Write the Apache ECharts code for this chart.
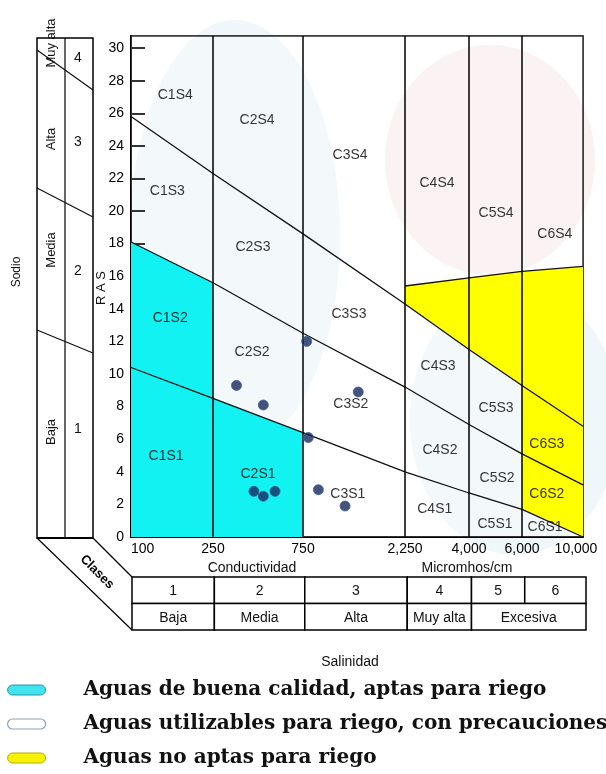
<!DOCTYPE html>
<html>
<head>
<meta charset="utf-8">
<script src="https://cdn.jsdelivr.net/npm/echarts@6/dist/echarts.min.js"></script>
<style>
  html, body { margin: 0; padding: 0; background: #fff; }
  #chart { width: 606px; height: 774px; }
</style>
</head>
<body>
<div id="chart"></div>
<script>
// Conductivity class limits (micromhos/cm) and their printed labels
const condBreaks = [100, 250, 750, 2250, 4000, 6000, 10000];
const condLabels = ['100', '250', '750', '2,250', '4,000', '6,000', '10,000'];

// RAS tick values
const rasTicks = [0, 2, 4, 6, 8, 10, 12, 14, 16, 18, 20, 22, 24, 26, 28, 30];

// Sodium hazard boundaries: RAS read at each conductivity limit
const lineS1S2 = [10.4, 8.5, 6.4, 4.0, 2.7, 1.7, 0];
const lineS2S3 = [18.1, 15.6, 12.5, 9.2, 6.9, 5.1, 3.2];
const lineS3S4 = [25.8, 22.3, 18.6, 14.3, 11.5, 9.3, 6.8];
const lineUnfit = [null, null, null, 15.4, 15.9, 16.3, 16.6];

// Water samples
const sampleCond = [780, 333, 462, 1360, 794, 412, 462, 533, 885, 1180];
const sampleRas = [12.0, 9.3, 8.1, 8.9, 6.1, 2.8, 2.5, 2.8, 2.9, 1.9];

// Zone names and where each is written (conductivity, RAS)
const zoneNames = ['C1S4', 'C2S4', 'C3S4', 'C1S3', 'C2S3', 'C1S2', 'C3S3', 'C2S2', 'C3S2', 'C1S1', 'C2S1', 'C3S1',
                   'C4S4', 'C5S4', 'C6S4', 'C4S3', 'C5S3', 'C4S2', 'C6S3', 'C5S2', 'C6S2', 'C4S1', 'C5S1', 'C6S1'];
const zoneCond = [164, 428, 1245, 150, 407, 155, 1230, 403, 1256, 148, 433, 1216,
                  3000, 4920, 7900, 3030, 4920, 3080, 7390, 4960, 7390, 2940, 4880, 7280];
const zoneRas = [27.1, 25.6, 23.4, 21.2, 17.8, 13.4, 13.7, 11.35, 8.16, 4.97, 3.87, 2.64,
                 21.7, 19.9, 18.6, 10.5, 7.9, 5.3, 5.7, 3.6, 2.6, 1.7, 0.8, 0.6];

// Class tables
const salinityClass = ['1', '2', '3', '4', '5', '6'];
const salinityLevel = ['Baja', 'Media', 'Alta', 'Muy alta', 'Excesiva'];
const salinityLevelSpan = [1, 1, 1, 1, 2];
const sodiumClass = ['4', '3', '2', '1'];
const sodiumLevel = ['Muy alta', 'Alta', 'Media', 'Baja'];

// Water quality groups
const legendNames = [
  'Aguas de buena calidad, aptas para riego',
  'Aguas utilizables para riego, con precauciones',
  'Aguas no aptas para riego'
];

// Regions as [class column, lower boundary, upper boundary]
// boundary ids: 0 = axis floor, 1 = S1/S2, 2 = S2/S3, 3 = S3/S4, 4 = unfit limit, 5 = top
const goodRegions = [[0, 0, 2], [1, 0, 1]];
const cautionRegions = [[0, 2, 5], [1, 1, 5], [2, 0, 5], [3, 0, 3], [3, 4, 5], [4, 0, 3], [4, 4, 5], [5, 0, 1], [5, 4, 5]];
const unfitRegions = [[3, 3, 4], [4, 3, 4], [5, 1, 4]];

// ---- scales ----
// The conductivity axis is printed with unequal class widths, log inside each class.
const classWidths = [82, 90, 102, 64, 53, 61];
const classEdgesU = classWidths.reduce((acc, w) => { acc.push(acc[acc.length - 1] + w); return acc; }, [0]);
const U_MAX = classEdgesU[classEdgesU.length - 1];
const Y_MAX = 30.74;

function toU(c) {
  let i = 0;
  while (i < condBreaks.length - 2 && c > condBreaks[i + 1]) i++;
  const l0 = Math.log10(condBreaks[i]), l1 = Math.log10(condBreaks[i + 1]);
  return classEdgesU[i] + classWidths[i] * (Math.log10(c) - l0) / (l1 - l0);
}

const lineSet = [
  condBreaks.map(() => 0),
  lineS1S2, lineS2S3, lineS3S4, lineUnfit,
  condBreaks.map(() => Y_MAX)
];

const SANS = "'Liberation Sans', Arial, sans-serif";

function regionSeries(name, regions, fill) {
  return {
    type: 'custom',
    name: name,
    xAxisIndex: 0, yAxisIndex: 0,
    z: 1,
    silent: true,
    itemStyle: { color: fill },
    data: regions,
    renderItem: function (params, api) {
      const col = api.value(0);
      const lo = lineSet[api.value(1)], hi = lineSet[api.value(2)];
      const x0 = toU(condBreaks[col]), x1 = toU(condBreaks[col + 1]);
      const pts = [
        api.coord([x0, lo[col]]), api.coord([x1, lo[col + 1]]),
        api.coord([x1, hi[col + 1]]), api.coord([x0, hi[col]])
      ];
      return { type: 'polygon', shape: { points: pts }, style: { fill: fill } };
    }
  };
}

function boundarySeries(values, withVerticals) {
  const pts = [];
  values.forEach((v, i) => { if (v !== null) pts.push([toU(condBreaks[i]), v]); });
  const s = {
    type: 'line', xAxisIndex: 0, yAxisIndex: 0, z: 3, silent: true,
    data: pts, symbol: 'none',
    lineStyle: { color: '#111', width: 1.3 }
  };
  if (withVerticals) {
    s.markLine = {
      silent: true, symbol: ['none', 'none'],
      label: { show: false },
      lineStyle: { color: '#000', width: 1.5, type: 'solid' },
      data: condBreaks.slice(1, -1).map(c => ({ xAxis: toU(c) }))
    };
  }
  return s;
}

// table cells: [row, first class, span, text index]
const tableCells = [];
salinityClass.forEach((t, i) => tableCells.push([0, i, 1, i]));
let startCls = 0;
salinityLevel.forEach((t, i) => { tableCells.push([1, startCls, salinityLevelSpan[i], i]); startCls += salinityLevelSpan[i]; });

const chart = echarts.init(document.getElementById('chart'), null, { renderer: 'canvas' });

const panelLines = [
  [37, 50, 93, 90], [37, 188, 93, 217], [37, 330, 93, 353]
];
const panelLevelY = [43, 139, 250, 432];
const panelClassY = [58, 142, 271, 429];

const graphics = [
  // faint watermark shapes behind the diagram
  { type: 'ellipse', z: -10, shape: { cx: 490, cy: 160, rx: 105, ry: 115 }, style: { fill: '#faf1f1' }, silent: true },
  { type: 'ellipse', z: -10, shape: { cx: 235, cy: 235, rx: 105, ry: 215 }, style: { fill: '#f0f7fa' }, silent: true },
  { type: 'ellipse', z: -10, shape: { cx: 515, cy: 420, rx: 105, ry: 135 }, style: { fill: '#f0f7fa' }, silent: true },

  // sodium class panel
  { type: 'rect', shape: { x: 37, y: 38, width: 56, height: 500 }, style: { fill: 'none', stroke: '#000', lineWidth: 1.5 } },
  { type: 'line', shape: { x1: 65, y1: 38, x2: 65, y2: 538 }, style: { stroke: '#000', lineWidth: 1.2 } },
  { type: 'line', shape: { x1: 37, y1: 538, x2: 93, y2: 538 }, style: { stroke: '#000', lineWidth: 2.2 } },
  // perspective edges down to the salinity table
  { type: 'line', shape: { x1: 37, y1: 538, x2: 132, y2: 630 }, style: { stroke: '#000', lineWidth: 1.2 } },
  { type: 'line', shape: { x1: 93, y1: 538, x2: 132, y2: 577 }, style: { stroke: '#000', lineWidth: 1.2 } },
  { type: 'text', x: 97, y: 572, rotation: -Math.PI / 4,
    style: { text: 'Clases', font: "bold 13px " + SANS, fill: '#000', align: 'center', verticalAlign: 'middle' } },

  { type: 'text', x: 17, y: 272, rotation: Math.PI / 2,
    style: { text: 'Sodio', font: "12px " + SANS, fill: '#111', align: 'center', verticalAlign: 'middle' } },
  { type: 'text', x: 101, y: 288, rotation: Math.PI / 2,
    style: { text: 'R A S', font: "13px " + SANS, fill: '#111', align: 'center', verticalAlign: 'middle' } },

  { type: 'text', x: 252, y: 568,
    style: { text: 'Conductividad', font: "14px " + SANS, fill: '#111', align: 'center', verticalAlign: 'middle' } },
  { type: 'text', x: 467, y: 568,
    style: { text: 'Micromhos/cm', font: "14px " + SANS, fill: '#111', align: 'center', verticalAlign: 'middle' } },
  { type: 'text', x: 350, y: 662,
    style: { text: 'Salinidad', font: "14px " + SANS, fill: '#111', align: 'center', verticalAlign: 'middle' } }
];
panelLines.forEach(p => graphics.push({ type: 'line', shape: { x1: p[0], y1: p[1], x2: p[2], y2: p[3] }, style: { stroke: '#111', lineWidth: 1.2 } }));
sodiumLevel.forEach((t, i) => graphics.push({
  type: 'text', x: 51, y: panelLevelY[i], rotation: Math.PI / 2,
  style: { text: t, font: "13px " + SANS, fill: '#111', align: 'center', verticalAlign: 'middle' }
}));
sodiumClass.forEach((t, i) => graphics.push({
  type: 'text', x: 78, y: panelClassY[i],
  style: { text: t, font: "14px " + SANS, fill: '#111', align: 'center', verticalAlign: 'middle' }
}));

const option = {
  animation: false,
  backgroundColor: '#fff',
  grid: [
    { left: 131, top: 36, width: U_MAX, height: 501, show: true, borderColor: '#000', borderWidth: 1.5, backgroundColor: 'transparent' },
    { left: 132, top: 577, width: U_MAX + 2, height: 53 }
  ],
  xAxis: [
    {
      type: 'value', gridIndex: 0, min: 0, max: U_MAX,
      splitLine: { show: false },
      axisLine: { show: true, lineStyle: { color: '#000', width: 2 } },
      axisTick: { show: false },
      axisLabel: {
        customValues: condBreaks.map(toU),
        margin: 5,
        fontFamily: SANS, fontSize: 14, color: '#000',
        alignMinLabel: 'left',
        formatter: function (v) {
          let k = 0, best = Infinity;
          condBreaks.forEach((c, i) => { const d = Math.abs(toU(c) - v); if (d < best) { best = d; k = i; } });
          return k === condBreaks.length - 1 ? '{last|' + condLabels[k] + '}' : condLabels[k];
        },
        rich: { last: { fontFamily: SANS, fontSize: 14, color: '#000', padding: [0, 14, 0, 0] } }
      }
    },
    { type: 'value', gridIndex: 1, min: 0, max: U_MAX, show: false }
  ],
  yAxis: [
    {
      type: 'value', gridIndex: 0, min: 0, max: Y_MAX,
      splitLine: { show: false },
      axisLine: { show: true, lineStyle: { color: '#000', width: 2 } },
      axisTick: { show: true, customValues: rasTicks, inside: true, length: 14, lineStyle: { color: '#000', width: 2 } },
      axisLabel: {
        customValues: rasTicks, margin: 7,
        fontFamily: SANS, fontSize: 14, color: '#000',
        padding: [0, 0, 12, 0]
      }
    },
    { type: 'value', gridIndex: 1, min: 0, max: 2, inverse: true, show: false }
  ],
  legend: {
    orient: 'vertical', left: 7, top: 677, height: 97, padding: 0,
    itemWidth: 38, itemHeight: 10, itemGap: 8,
    icon: 'path://M5,0 L33,0 A5,5 0 0 1 33,10 L5,10 A5,5 0 0 1 5,0 Z',
    selectedMode: false,
    textStyle: { fontFamily: "'DejaVu Serif', serif", fontWeight: 'bold', fontSize: 20, color: '#111', lineHeight: 26, padding: [0, 0, 0, 33] },
    data: [
      { name: legendNames[0], itemStyle: { color: '#40e3ee', borderColor: '#2a95a5', borderWidth: 1 } },
      { name: legendNames[1], itemStyle: { color: '#ffffff', borderColor: '#8ea4b6', borderWidth: 1.2 } },
      { name: legendNames[2], itemStyle: { color: '#f6f200', borderColor: '#b4ae00', borderWidth: 1 } }
    ]
  },
  graphic: { elements: graphics },
  series: [
    regionSeries(legendNames[0], goodRegions, '#12f2f2'),
    regionSeries(legendNames[1], cautionRegions, 'rgba(255,255,255,0.2)'),
    regionSeries(legendNames[2], unfitRegions, '#ffff00'),
    boundarySeries(lineS1S2, true),
    boundarySeries(lineS2S3, false),
    boundarySeries(lineS3S4, false),
    boundarySeries(lineUnfit, false),
    {
      type: 'scatter', xAxisIndex: 0, yAxisIndex: 0, z: 4, silent: true,
      symbolSize: 0,
      data: zoneNames.map((n, i) => ({ name: n, value: [toU(zoneCond[i]), zoneRas[i]] })),
      label: { show: true, position: 'inside', formatter: '{b}', fontFamily: SANS, fontSize: 14, color: '#000' }
    },
    {
      type: 'scatter', xAxisIndex: 0, yAxisIndex: 0, z: 5, silent: true,
      symbol: 'circle', symbolSize: 10,
      itemStyle: { color: '#17285a', borderColor: '#3e5a9c', borderWidth: 1 },
      data: sampleCond.map((c, i) => [toU(c), sampleRas[i]])
    },
    {
      type: 'custom', xAxisIndex: 1, yAxisIndex: 1, z: 3, silent: true,
      data: tableCells,
      renderItem: function (params, api) {
        const row = api.value(0), c0 = api.value(1), span = api.value(2), t = api.value(3);
        const p0 = api.coord([classEdgesU[c0], row]);
        const p1 = api.coord([classEdgesU[c0 + span], row + 1]);
        const text = row === 0 ? salinityClass[t] : salinityLevel[t];
        return {
          type: 'group',
          children: [
            { type: 'rect', shape: { x: p0[0], y: p0[1], width: p1[0] - p0[0], height: p1[1] - p0[1] },
              style: { fill: '#fff', stroke: '#000', lineWidth: 1.5 } },
            { type: 'text', style: { text: text, x: (p0[0] + p1[0]) / 2, y: (p0[1] + p1[1]) / 2 + 1,
              align: 'center', verticalAlign: 'middle', font: '14px ' + SANS, fill: '#111' } }
          ]
        };
      }
    }
  ]
};

chart.setOption(option);
</script>
</body>
</html>
